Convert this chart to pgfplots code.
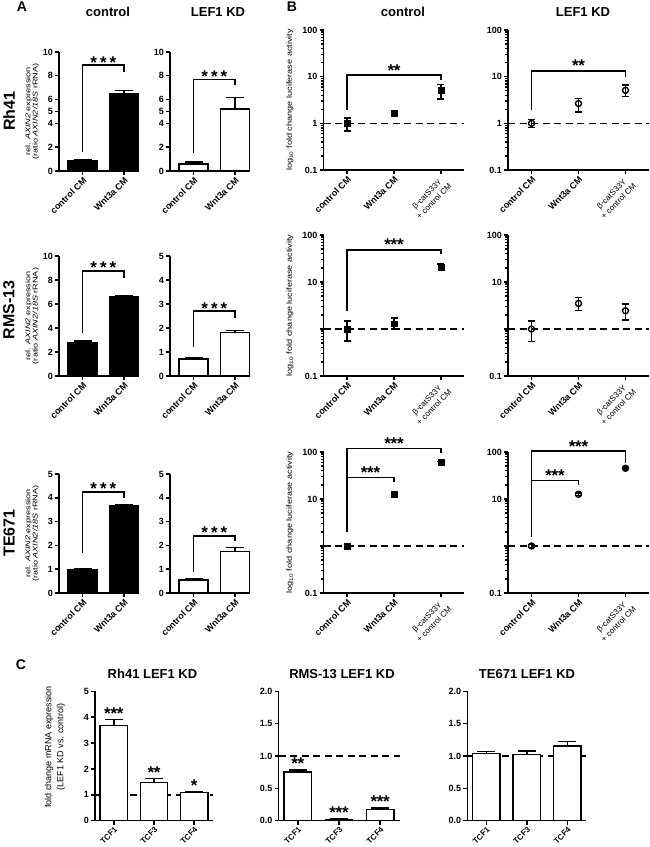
\documentclass[border=0pt]{standalone}
\usepackage{pgfplots}
\pgfplotsset{compat=1.18}
\usepackage{fontspec}
\setmainfont{Liberation Sans}
\usepackage{graphicx}

\pgfplotsset{
  gp/.style={
    scale only axis, anchor=south west, clip=false,
    axis lines*=left, tick pos=left,
    axis line style={line width=1.4pt, black},
    tick style={line width=1.4pt, black},
    major tick length=4pt, tick align=outside,
    tick label style={font=\bfseries\fontsize{9}{10}\selectfont},
    /pgf/number format/assume math mode=true,
    xticklabel style={rotate=45, anchor=north east, inner sep=1pt, align=center},
    yticklabel style={inner sep=2pt},
  },
  gpA/.style={gp, width=80pt, xmin=-0.57, xmax=1.36, ymin=0, xtick={0,1},
    xticklabels={control CM, Wnt3a CM}, yticklabel={\pgfmathprintnumber{\tick}}},
  gpC/.style={gp, height=129.4pt, xmin=-0.47, xmax=2.47, ymin=0, xtick={0,1,2},
    xticklabels={TCF1,TCF3,TCF4}, yticklabel={\pgfmathprintnumber{\tick}},
    xticklabel style={font=\bfseries\fontsize{8}{9}\selectfont}},
  errA/.style={error bars/.cd, y dir=plus, y explicit,
    error bar style={line width=1.4pt, black, solid},
    error mark options={rotate=90, mark size=9pt, line width=1.4pt, black}},
  errB/.style={error bars/.cd, y dir=both, y explicit,
    error bar style={line width=1.4pt, black, solid},
    error mark options={rotate=90, mark size=3.5pt, line width=1.4pt, black}},
  barA/.style={ybar, bar width=29pt, draw=black, line width=1.4pt},
  barC/.style={ybar, bar width=27.5pt, draw=black, fill=white, line width=1.4pt},
  dash1/.style={line width=1.4pt, black, dash pattern=on 7pt off 4.5pt},
}
\tikzset{
  br/.style={line width=1.4pt, black},
  starA/.style={font=\bfseries\fontsize{17}{17}\selectfont, anchor=base, inner sep=0pt, yshift=-3pt},
  starB/.style={font=\bfseries\fontsize{17}{17}\selectfont, anchor=base, inner sep=0pt, yshift=-1pt},
  starC/.style={font=\bfseries\fontsize{17}{17}\selectfont, anchor=base, inner sep=0pt},
  ttl/.style={font=\bfseries\fontsize{13}{13}\selectfont, inner sep=0pt},
  big/.style={font=\bfseries\fontsize{14}{14}\selectfont, inner sep=0pt},
  row/.style={font=\bfseries\fontsize{16}{16}\selectfont, inner sep=0pt, rotate=90},
}
\newcommand{\sA}{*\kern3pt*\kern3pt*}
\newcommand{\sBt}{*\kern-0.3pt*\kern-0.3pt*}
\newcommand{\sBd}{*\kern-0.3pt*}
\newcommand{\bcat}{{\mdseries\fontsize{8}{9}\selectfont β-catS33Y}\\{\mdseries\fontsize{8}{9}\selectfont + control CM}}
\newcommand{\ylabA}{\scalebox{1.3}[1]{\fontsize{7}{7.2}\selectfont\begin{tabular}{@{}c@{}}rel. \textit{AXIN2} expression\\(ratio \textit{AXIN2/18S} rRNA)\end{tabular}}}
\newcommand{\ylabB}{\scalebox{1.22}[1]{\fontsize{7.5}{8}\selectfont log\textsubscript{10} fold change luciferase activity}}

\begin{document}
\begin{tikzpicture}
\useasboundingbox (0pt,0pt) rectangle (650pt,847pt);

% ---------- labels ----------
\node[big] at (22pt,840pt) {A};
\node[big] at (292pt,840pt) {B};
\node[big] at (21pt,182pt) {C};
\node[ttl] at (108pt,835pt) {control};
\node[ttl] at (218pt,835pt) {LEF1 KD};
\node[ttl] at (403pt,835pt) {control};
\node[ttl] at (583pt,835pt) {LEF1 KD};
\node[row] at (9pt,736pt) {Rh41};
\node[row] at (9pt,537pt) {RMS-13};
\node[row] at (9pt,314pt) {TE671};
\node[rotate=90, inner sep=0pt] at (32.5pt,735.5pt) {\ylabA};
\node[rotate=90, inner sep=0pt] at (32.5pt,531pt) {\ylabA};
\node[rotate=90, inner sep=0pt] at (32.5pt,313.5pt) {\ylabA};
\node[rotate=90, inner sep=0pt] at (290pt,747pt) {\ylabB};
\node[rotate=90, inner sep=0pt] at (290pt,541.5pt) {\ylabB};
\node[rotate=90, inner sep=0pt] at (290pt,324.5pt) {\ylabB};
\node[ttl] at (152.5pt,173pt) {Rh41 LEF1 KD};
\node[ttl] at (342pt,173pt) {RMS-13 LEF1 KD};
\node[ttl] at (527pt,173pt) {TE671 LEF1 KD};
\node[rotate=90, inner sep=0pt, font=\fontsize{9}{12}\selectfont, align=center] at (55pt,100pt)
  {fold change mRNA expression\\(LEF1 KD vs. control)};

% ---------- Panel A ----------
\begin{axis}[gpA, at={(59pt,676pt)}, height=119pt, ymax=10, ytick={0,2,4,5,6,8,10}]
\addplot[barA, fill=black, errA] coordinates {(0,0.87) +- (0,0.05) (1,6.47) +- (0,0.3)};
\draw[br] (axis cs:0,1.6) -- (axis cs:0,8.9) -- (axis cs:1,8.9) -- (axis cs:1,8.3);
\node[starA] at (axis cs:0.5,8.9) {\sA};
\end{axis}
\begin{axis}[gpA, at={(170pt,676pt)}, height=119pt, ymax=10, ytick={0,2,4,5,6,8,10}]
\addplot[barA, fill=white, errA] coordinates {(0,0.6) +- (0,0.15) (1,5.2) +- (0,1.0)};
\draw[br] (axis cs:0,1.5) -- (axis cs:0,7.7) -- (axis cs:1,7.7) -- (axis cs:1,7.2);
\node[starA] at (axis cs:0.5,7.7) {\sA};
\end{axis}

\begin{axis}[gpA, at={(59pt,471pt)}, height=120pt, ymax=10, ytick={0,2,4,6,8,10}]
\addplot[barA, fill=black, errA] coordinates {(0,2.75) +- (0,0.15) (1,6.6) +- (0,0.07)};
\draw[br] (axis cs:0,3.6) -- (axis cs:0,8.75) -- (axis cs:1,8.75) -- (axis cs:1,8.2);
\node[starA] at (axis cs:0.5,8.75) {\sA};
\end{axis}
\begin{axis}[gpA, at={(170pt,471pt)}, height=120pt, ymax=5, ytick={0,1,2,3,4,5}]
\addplot[barA, fill=white, errA] coordinates {(0,0.7) +- (0,0.08) (1,1.8) +- (0,0.1)};
\draw[br] (axis cs:0,1.2) -- (axis cs:0,2.7) -- (axis cs:1,2.7) -- (axis cs:1,2.4);
\node[starA] at (axis cs:0.5,2.7) {\sA};
\end{axis}

\begin{axis}[gpA, at={(59pt,254pt)}, height=119pt, ymax=5, ytick={0,1,2,3,4,5}]
\addplot[barA, fill=black, errA] coordinates {(0,0.97) +- (0,0.03) (1,3.65) +- (0,0.07)};
\draw[br] (axis cs:0,1.7) -- (axis cs:0,4.25) -- (axis cs:1,4.25) -- (axis cs:1,4.0);
\node[starA] at (axis cs:0.5,4.25) {\sA};
\end{axis}
\begin{axis}[gpA, at={(170pt,254pt)}, height=119pt, ymax=5, ytick={0,1,2,3,4,5}]
\addplot[barA, fill=white, errA] coordinates {(0,0.55) +- (0,0.06) (1,1.75) +- (0,0.16)};
\draw[br] (axis cs:0,0.9) -- (axis cs:0,2.4) -- (axis cs:1,2.4) -- (axis cs:1,2.2);
\node[starA] at (axis cs:0.5,2.4) {\sA};
\end{axis}

% ---------- Panel B ----------
\begin{axis}[gp, ymode=log, at={(323.5pt,677pt)}, width=141pt, height=140pt,
  ymin=0.1, ymax=100, ytick={0.1,1,10,100}, yticklabels={0.1,1,10,100},
  xmin=-0.5, xmax=2.5, xtick={0,1,2}, xticklabels={control CM, Wnt3a CM, {\bcat}}]
\addplot[dash1] coordinates {(-0.5,1) (2.5,1)};
\addplot[only marks, mark=square*, mark size=2.8pt, black, errB] coordinates
  {(0,1) += (0,0.3) -= (0,0.32) (1,1.65) += (0,0.15) -= (0,0.12) (2,5.1) += (0,1.7) -= (0,1.8)};
\draw[br] (axis cs:0,1.9) -- (axis cs:0,10.8) -- (axis cs:2,10.8) -- (axis cs:2,8.4);
\node[starB] at (axis cs:1,10.8) {\sBd};
\end{axis}
\begin{axis}[gp, ymode=log, at={(508pt,677pt)}, width=141pt, height=140pt,
  ymin=0.1, ymax=100, ytick={0.1,1,10,100}, yticklabels={0.1,1,10,100},
  xmin=-0.5, xmax=2.5, xtick={0,1,2}, xticklabels={control CM, Wnt3a CM, {\bcat}}]
\addplot[dash1] coordinates {(-0.5,1) (2.5,1)};
\addplot[only marks, mark=o, mark size=3pt, black, mark options={line width=1.4pt}, errB] coordinates
  {(0,1) += (0,0.2) -= (0,0.18) (1,2.65) += (0,0.75) -= (0,0.9) (2,5.1) += (0,1.5) -= (0,1.3)};
\draw[br] (axis cs:0,1.9) -- (axis cs:0,13.3) -- (axis cs:2,13.3) -- (axis cs:2,10);
\node[starB] at (axis cs:1,13.3) {\sBd};
\end{axis}

\begin{axis}[gp, ymode=log, at={(323.5pt,471pt)}, width=141pt, height=141pt,
  ymin=0.1, ymax=100, ytick={0.1,1,10,100}, yticklabels={0.1,,10,100},
  xmin=-0.5, xmax=2.5, xtick={0,1,2}, xticklabels={control CM, Wnt3a CM, {\bcat}}]
\addplot[dash1] coordinates {(-0.5,1) (2.5,1)};
\addplot[only marks, mark=square*, mark size=2.8pt, black, errB] coordinates
  {(0,1) += (0,0.48) -= (0,0.44) (1,1.3) += (0,0.4) -= (0,0.3) (2,21) += (0,3) -= (0,3)};
\draw[br] (axis cs:0,2.45) -- (axis cs:0,48) -- (axis cs:2,48) -- (axis cs:2,40);
\node[starB] at (axis cs:1,48) {\sBt};
\end{axis}
\begin{axis}[gp, ymode=log, at={(508pt,471pt)}, width=141pt, height=141pt,
  ymin=0.1, ymax=100, ytick={0.1,1,10,100}, yticklabels={0.1,,10,100},
  xmin=-0.5, xmax=2.5, xtick={0,1,2}, xticklabels={control CM, Wnt3a CM, {\bcat}}]
\addplot[dash1] coordinates {(-0.5,1) (2.5,1)};
\addplot[only marks, mark=o, mark size=3pt, black, mark options={line width=1.4pt}, errB] coordinates
  {(0,1) += (0,0.48) -= (0,0.46) (1,3.5) += (0,1.2) -= (0,1.05) (2,2.45) += (0,0.95) -= (0,0.9)};
\end{axis}

\begin{axis}[gp, ymode=log, at={(323.5pt,254pt)}, width=141pt, height=141pt,
  ymin=0.1, ymax=100, ytick={0.1,1,10,100}, yticklabels={0.1,,10,100},
  xmin=-0.5, xmax=2.5, xtick={0,1,2}, xticklabels={control CM, Wnt3a CM, {\bcat}}]
\addplot[dash1] coordinates {(-0.5,1) (2.5,1)};
\addplot[only marks, mark=square*, mark size=2.8pt, black, errB] coordinates
  {(0,1) += (0,0.1) -= (0,0.1) (1,12.8) += (0,0) -= (0,0) (2,60) += (0,3) -= (0,3)};
\draw[br] (axis cs:0,2.0) -- (axis cs:0,120) -- (axis cs:2,120) -- (axis cs:2,94);
\draw[br] (axis cs:0,29) -- (axis cs:1,29) -- (axis cs:1,23);
\node[starB] at (axis cs:1,120) {\sBt};
\node[starB] at (axis cs:0.5,29) {\sBt};
\end{axis}
\begin{axis}[gp, ymode=log, at={(508pt,254pt)}, width=141pt, height=141pt,
  ymin=0.1, ymax=100, ytick={0.1,1,10,100}, yticklabels={0.1,,10,100},
  xmin=-0.5, xmax=2.5, xtick={0,1,2}, xticklabels={control CM, Wnt3a CM, {\bcat}}]
\addplot[dash1] coordinates {(-0.5,1) (2.5,1)};
\addplot[only marks, mark=o, mark size=3pt, black, mark options={line width=1.4pt}, errB] coordinates
  {(0,1) += (0,0.08) -= (0,0.08) (1,12.6) += (0,0.9) -= (0,0.9)};
\addplot[only marks, mark=*, mark size=3.5pt, black] coordinates {(2,45)};
\draw[br] (axis cs:0,1.58) -- (axis cs:0,105) -- (axis cs:2,105) -- (axis cs:2,58);
\draw[br] (axis cs:0,24.5) -- (axis cs:1,24.5) -- (axis cs:1,20);
\node[starB] at (axis cs:1,105) {\sBt};
\node[starB] at (axis cs:0.5,24.5) {\sBt};
\end{axis}

% ---------- Panel C ----------
\begin{axis}[gpC, at={(95pt,26.3pt)}, width=118pt, ymax=5, ytick={0,1,2,3,4,5}]
\addplot[dash1] coordinates {(-0.47,1) (2.47,1)};
\addplot[barC, errA] coordinates {(0,3.67) +- (0,0.23) (1,1.47) +- (0,0.16) (2,1.085) +- (0,0.035)};
\node[starC] at (axis cs:0,3.9) {\sBt};
\node[starC] at (axis cs:1,1.63) {\sBd};
\node[starC] at (axis cs:2,1.12) {*};
\end{axis}
\begin{axis}[gpC, at={(278.5pt,26.3pt)}, width=121pt, ymax=2, ytick={0,0.5,1,1.5,2},
  yticklabel style={/pgf/number format/.cd, fixed, fixed zerofill, precision=1}]
\addplot[dash1] coordinates {(-0.47,1) (2.47,1)};
\addplot[barC, errA] coordinates {(0,0.75) +- (0,0.035) (1,0.02) +- (0,0.008) (2,0.176) +- (0,0.02)};
\node[starC] at (axis cs:0,0.785) {\sBd};
\node[starC] at (axis cs:1,0.03) {\sBt};
\node[starC] at (axis cs:2,0.2) {\sBt};
\end{axis}
\begin{axis}[gpC, at={(467.3pt,26.3pt)}, width=119pt, ymax=2, ytick={0,0.5,1,1.5,2},
  yticklabel style={/pgf/number format/.cd, fixed, fixed zerofill, precision=1}]
\addplot[dash1] coordinates {(-0.47,1) (2.47,1)};
\addplot[barC, errA] coordinates {(0,1.04) +- (0,0.025) (1,1.02) +- (0,0.055) (2,1.155) +- (0,0.065)};
\end{axis}
\end{tikzpicture}
\end{document}
